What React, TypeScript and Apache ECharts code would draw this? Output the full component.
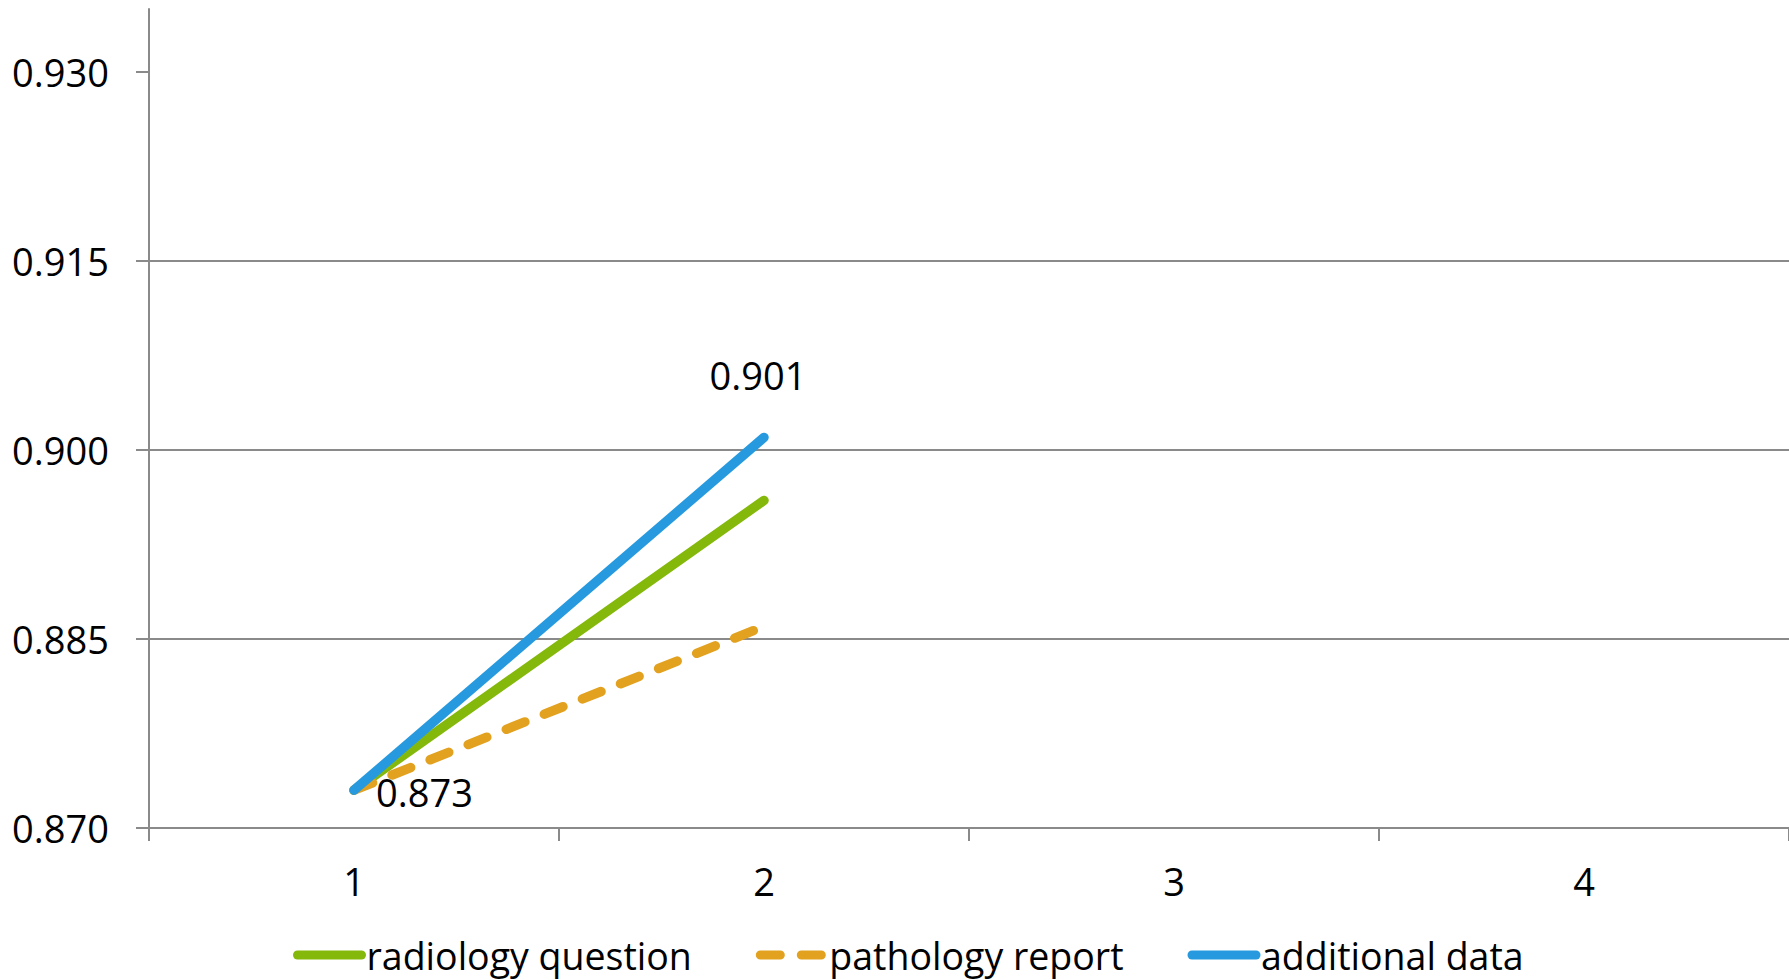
import React, { useEffect, useRef } from "react";
import * as echarts from "echarts";

// Categories along the x axis
const categories = ["1", "2", "3", "4"];

// Series values
const radiologyQuestion = [0.873, 0.896];
const pathologyReport = [0.873, 0.886];
const additionalData = [0.873, 0.901];

// Y axis ticks
const yTicks = [0.87, 0.885, 0.9, 0.915, 0.93];
const yMin = 0.87;
const yMax = 0.935;
const yStep = 0.015;

const FONT = "'Open Sans', 'Noto Sans', sans-serif";
const FONT_SIZE = 38;
const LEGEND_FONT_SIZE = 37.5;
const AXIS_GREY = "#8a8a8a";

export default function App() {
  const ref = useRef<HTMLDivElement>(null);

  useEffect(() => {
    if (!ref.current) return;
    const chart = echarts.init(ref.current, undefined, { renderer: "svg" });

    const fmt = (v: number) => Number(v).toFixed(3);

    const additionalItems = additionalData.map((v, i) => ({
      value: v,
      label:
        i === 0
          ? { show: true, position: "right", distance: 22, offset: [0, 2] }
          : { show: true, position: "top", distance: 43, offset: [-6, 0] },
    }));

    const lineBase = {
      type: "line",
      symbol: "circle",
      symbolSize: 0.1,
      showSymbol: true,
      z: 3,
    };

    chart.setOption({
      animation: false,
      backgroundColor: "#ffffff",
      textStyle: { fontFamily: FONT },
      grid: { left: 149, right: 0, top: 9, bottom: 152, containLabel: false },
      xAxis: {
        type: "category",
        data: categories,
        boundaryGap: true,
        axisLine: { show: true, lineStyle: { color: AXIS_GREY, width: 2 } },
        axisTick: { show: true, length: 13, lineStyle: { color: AXIS_GREY, width: 2 } },
        axisLabel: { color: "#000", fontSize: FONT_SIZE, fontFamily: FONT, margin: 34 },
        splitLine: { show: false },
      },
      yAxis: {
        type: "value",
        min: yMin,
        max: yMax,
        interval: yStep,
        axisLine: { show: true, lineStyle: { color: AXIS_GREY, width: 2 } },
        axisTick: {
          show: true,
          length: 13,
          customValues: yTicks,
          lineStyle: { color: AXIS_GREY, width: 2 },
        },
        axisLabel: {
          color: "#000",
          fontSize: FONT_SIZE,
          fontFamily: FONT,
          margin: 40,
          customValues: yTicks,
          formatter: (v: number) => fmt(v),
        },
        splitLine: {
          show: true,
          showMaxLine: false,
          lineStyle: { color: AXIS_GREY, width: 2 },
        },
      },
      legend: {
        show: true,
        left: 293,
        top: 936,
        padding: 0,
        itemWidth: 64,
        itemHeight: 14,
        itemGap: 64,
        itemStyle: { opacity: 0 },
        lineStyle: { width: 9, cap: "round" },
        textStyle: { color: "#000", fontSize: LEGEND_FONT_SIZE, fontFamily: FONT },
        data: ["radiology question", "pathology report", "additional data"],
      },
      series: [
        {
          ...lineBase,
          name: "radiology question",
          data: radiologyQuestion,
          itemStyle: { color: "#84b80a" },
          lineStyle: { color: "#84b80a", width: 9.5, cap: "round" },
        },
        {
          ...lineBase,
          name: "pathology report",
          data: pathologyReport,
          itemStyle: { color: "#e2a11f" },
          lineStyle: {
            color: "#e2a11f",
            width: 9.5,
            cap: "round",
            type: [20, 21],
          },
        },
        {
          ...lineBase,
          name: "additional data",
          data: additionalItems,
          itemStyle: { color: "#279adf" },
          lineStyle: { color: "#279adf", width: 9.5, cap: "round" },
          label: {
            color: "#000",
            fontSize: FONT_SIZE,
            fontFamily: FONT,
            formatter: (p: any) => fmt(p.value),
          },
        },
      ],
    });

    return () => chart.dispose();
  }, []);

  return (
    <div
      ref={ref}
      style={{ position: "fixed", left: 0, top: 0, width: 1789, height: 980, background: "#fff" }}
    />
  );
}
